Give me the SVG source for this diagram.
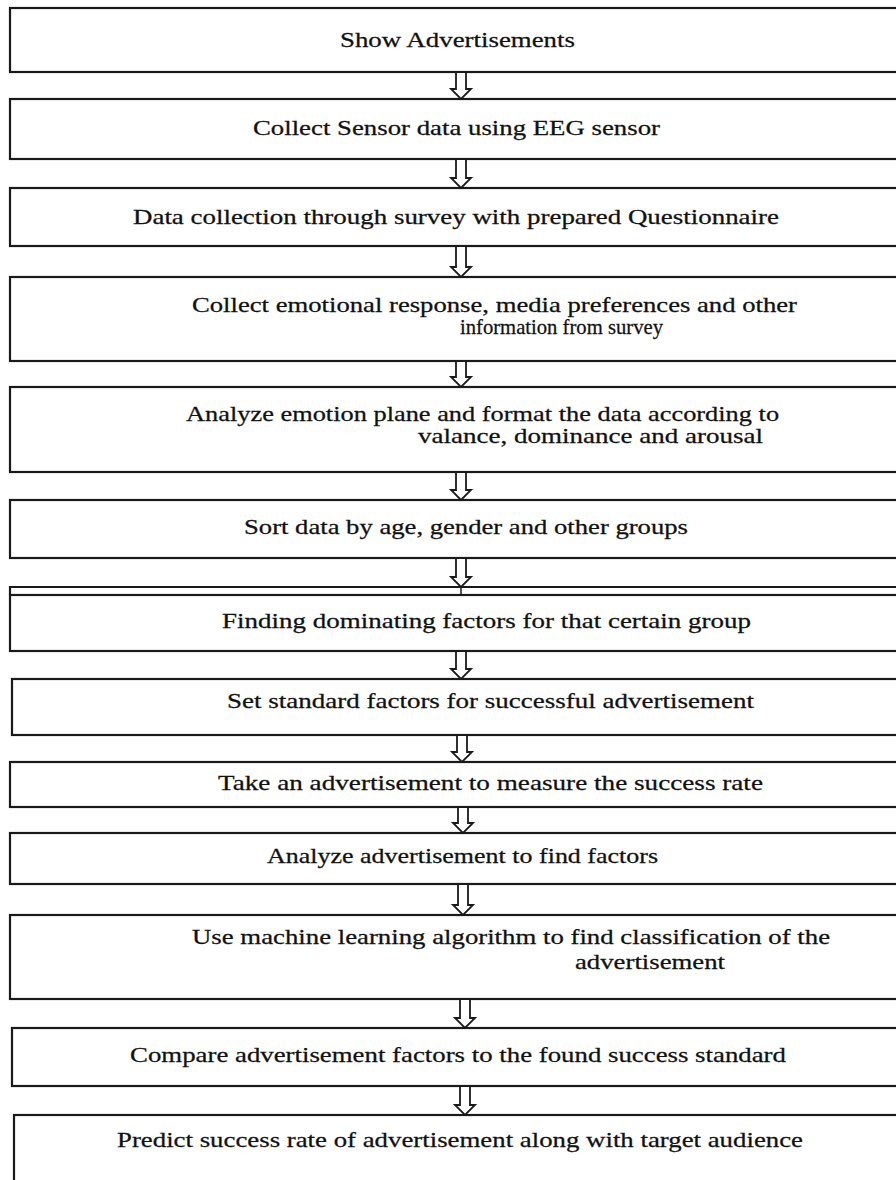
<svg xmlns="http://www.w3.org/2000/svg" width="896" height="1180" viewBox="0 0 896 1180">
<style>
.box{fill:#fff;stroke:#1a1a1a;stroke-width:2.2}
.t{font-family:"Liberation Serif","Times New Roman",serif;font-size:20px;fill:#111;stroke:#111;stroke-width:0.25;dominant-baseline:central}
.arr{fill:#fff;stroke:#1a1a1a;stroke-width:1.8;stroke-linejoin:miter}
.ln{stroke:#1a1a1a;stroke-width:2.2;fill:none}
</style>
<rect width="896" height="1180" fill="#fff"/>
<g id="n1"><rect class="box" x="10" y="8" width="900" height="64"/><text class="t" transform="scale(1.3,1)" x="261.5" y="40" textLength="180.8" lengthAdjust="spacingAndGlyphs">Show Advertisements</text></g>
<g id="n2"><rect class="box" x="10" y="99" width="900" height="60"/><text class="t" transform="scale(1.3,1)" x="194.6" y="128" textLength="313.1" lengthAdjust="spacingAndGlyphs">Collect Sensor data using EEG sensor</text></g>
<g id="n3"><rect class="box" x="10" y="188" width="900" height="58"/><text class="t" transform="scale(1.3,1)" x="102.3" y="217" textLength="496.9" lengthAdjust="spacingAndGlyphs">Data collection through survey with prepared Questionnaire</text></g>
<g id="n4"><rect class="box" x="10" y="277" width="900" height="84"/><text class="t" transform="scale(1.3,1)" x="147.7" y="305" textLength="465.4" lengthAdjust="spacingAndGlyphs">Collect emotional response, media preferences and other</text><text class="t" transform="scale(1.3,1)" x="353.8" y="327" textLength="156.2" lengthAdjust="spacingAndGlyphs">information from survey</text></g>
<g id="n5"><rect class="box" x="10" y="387" width="900" height="85"/><text class="t" transform="scale(1.3,1)" x="143.1" y="414" textLength="456.2" lengthAdjust="spacingAndGlyphs">Analyze emotion plane and format the data according to</text><text class="t" transform="scale(1.3,1)" x="321.5" y="436" textLength="265.4" lengthAdjust="spacingAndGlyphs">valance, dominance and arousal</text></g>
<g id="n6"><rect class="box" x="10" y="500" width="900" height="58"/><text class="t" transform="scale(1.3,1)" x="187.7" y="527" textLength="341.5" lengthAdjust="spacingAndGlyphs">Sort data by age, gender and other groups</text></g>
<g id="n7"><path class="ln" d="M10,595 V587 H900"/><rect class="box" x="10" y="595" width="900" height="56"/><text class="t" transform="scale(1.3,1)" x="170.8" y="621" textLength="406.9" lengthAdjust="spacingAndGlyphs">Finding dominating factors for that certain group</text></g>
<g id="n8"><rect class="box" x="12" y="679" width="900" height="56"/><text class="t" transform="scale(1.3,1)" x="174.6" y="701" textLength="405.4" lengthAdjust="spacingAndGlyphs">Set standard factors for successful advertisement</text></g>
<g id="n9"><rect class="box" x="10" y="762" width="900" height="45"/><text class="t" transform="scale(1.3,1)" x="167.7" y="783" textLength="419.2" lengthAdjust="spacingAndGlyphs">Take an advertisement to measure the success rate</text></g>
<g id="n10"><rect class="box" x="10" y="833" width="900" height="51"/><text class="t" transform="scale(1.3,1)" x="205.4" y="856" textLength="300.8" lengthAdjust="spacingAndGlyphs">Analyze advertisement to find factors</text></g>
<g id="n11"><rect class="box" x="10" y="915" width="900" height="84"/><text class="t" transform="scale(1.3,1)" x="147.7" y="937" textLength="490.8" lengthAdjust="spacingAndGlyphs">Use machine learning algorithm to find classification of the</text><text class="t" transform="scale(1.3,1)" x="442.3" y="962" textLength="115.4" lengthAdjust="spacingAndGlyphs">advertisement</text></g>
<g id="n12"><rect class="box" x="12" y="1028" width="900" height="58"/><text class="t" transform="scale(1.3,1)" x="100" y="1055" textLength="504.6" lengthAdjust="spacingAndGlyphs">Compare advertisement factors to the found success standard</text></g>
<g id="n13"><rect class="box" x="14" y="1115" width="900" height="100"/><text class="t" transform="scale(1.3,1)" x="90" y="1140" textLength="527.7" lengthAdjust="spacingAndGlyphs">Predict success rate of advertisement along with target audience</text></g>
<g id="connectors">
<path class="arr" d="M456,72 V89 H451 L461,99 L471,89 H466 V72 Z"/>
<path class="arr" d="M456,159 V178 H451 L461,188 L471,178 H466 V159 Z"/>
<path class="arr" d="M456,246 V267 H451 L461,277 L471,267 H466 V246 Z"/>
<path class="arr" d="M456,361 V377 H451 L461,387 L471,377 H466 V361 Z"/>
<path class="arr" d="M456,472 V490 H451 L461,500 L471,490 H466 V472 Z"/>
<path class="arr" d="M456,558 V577 H451 L461,587 L471,577 H466 V558 Z"/>
<path class="ln" d="M461,587 V595" style="stroke-width:1.5"/>
<path class="arr" d="M456,651 V669 H451 L461,679 L471,669 H466 V651 Z"/>
<path class="arr" d="M457,735 V752 H452 L462,762 L472,752 H467 V735 Z"/>
<path class="arr" d="M458,807 V823 H453 L463,833 L473,823 H468 V807 Z"/>
<path class="arr" d="M458,884 V905 H453 L463,915 L473,905 H468 V884 Z"/>
<path class="arr" d="M460,999 V1018 H455 L465,1028 L475,1018 H470 V999 Z"/>
<path class="arr" d="M460,1086 V1105 H455 L465,1115 L475,1105 H470 V1086 Z"/>
</g>
</svg>
